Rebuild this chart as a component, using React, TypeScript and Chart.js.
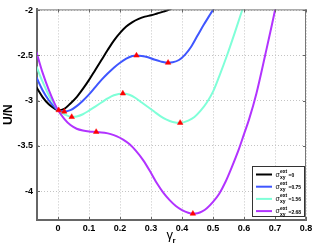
import { useEffect, useRef } from 'react';
import { Chart, registerables } from 'chart.js';

Chart.register(...registerables);

// ---- data ----
const blackX = [-0.07, -0.05, -0.03, -0.01, 0.0, 0.02, 0.04, 0.06, 0.08, 0.10, 0.12, 0.14, 0.16, 0.18, 0.20, 0.22, 0.24, 0.26, 0.28, 0.30, 0.32, 0.34, 0.36, 0.38];
const blackY = [-2.85, -2.96, -3.04, -3.09, -3.105, -3.09, -3.03, -2.96, -2.87, -2.77, -2.66, -2.55, -2.44, -2.335, -2.25, -2.18, -2.13, -2.095, -2.07, -2.055, -2.035, -2.015, -1.99, -1.95];

const blueX = [-0.07, -0.05, -0.03, -0.01, 0.0, 0.02, 0.04, 0.06, 0.08, 0.10, 0.12, 0.14, 0.16, 0.18, 0.20, 0.22, 0.24, 0.253, 0.27, 0.29, 0.31, 0.33, 0.355, 0.37, 0.39, 0.41, 0.43, 0.45, 0.47, 0.49, 0.51];
const blueY = [-2.74, -2.885, -2.995, -3.075, -3.105, -3.12, -3.105, -3.06, -3.0, -2.93, -2.85, -2.77, -2.70, -2.635, -2.58, -2.535, -2.505, -2.5, -2.505, -2.52, -2.545, -2.565, -2.58, -2.575, -2.55, -2.49, -2.4, -2.28, -2.16, -2.05, -1.94];

const cyanX = [-0.07, -0.05, -0.03, -0.01, 0.0, 0.02, 0.044, 0.06, 0.08, 0.10, 0.12, 0.14, 0.16, 0.18, 0.209, 0.23, 0.25, 0.27, 0.29, 0.31, 0.33, 0.35, 0.37, 0.394, 0.42, 0.44, 0.46, 0.48, 0.50, 0.52, 0.545, 0.57, 0.594, 0.61];
const cyanY = [-2.62, -2.79, -2.94, -3.05, -3.105, -3.15, -3.18, -3.175, -3.15, -3.11, -3.065, -3.02, -2.975, -2.94, -2.92, -2.935, -2.97, -3.02, -3.07, -3.12, -3.17, -3.21, -3.235, -3.245, -3.22, -3.18, -3.11, -3.02, -2.9, -2.73, -2.5, -2.25, -2.0, -1.83];

const purpleX = [-0.07, -0.05, -0.03, -0.01, 0.0, 0.02, 0.04, 0.06, 0.08, 0.10, 0.123, 0.15, 0.17, 0.19, 0.21, 0.23, 0.25, 0.275, 0.30, 0.32, 0.34, 0.36, 0.38, 0.40, 0.42, 0.435, 0.45, 0.465, 0.48, 0.50, 0.52, 0.54, 0.56, 0.584, 0.60, 0.616, 0.64, 0.668, 0.70, 0.72];
const purpleY = [-2.46, -2.69, -2.88, -3.04, -3.105, -3.2, -3.27, -3.31, -3.33, -3.34, -3.345, -3.355, -3.37, -3.395, -3.43, -3.48, -3.55, -3.66, -3.8, -3.92, -4.02, -4.1, -4.165, -4.21, -4.24, -4.25, -4.245, -4.225, -4.19, -4.12, -4.03, -3.9, -3.74, -3.53, -3.37, -3.21, -2.92, -2.5, -2.0, -1.65];

const markerX = [0.002, 0.02, 0.253, 0.355, 0.044, 0.209, 0.394, 0.123, 0.435];
const markerY = [-3.105, -3.12, -2.5, -2.58, -3.18, -2.92, -3.245, -3.345, -4.25];

const sigmaLabels = ['0', '0.75', '1.56', '2.68'];
const seriesColors = ['#000000', '#3f56ff', '#7fffd8', '#b233ff'];

const xTickValues = [0, 0.1, 0.2, 0.3, 0.4, 0.5, 0.6, 0.7, 0.8];
const xTickLabels = ['0', '0.1', '0.2', '0.3', '0.4', '0.5', '0.6', '0.7', '0.8'];
const yTickValues = [-4, -3.5, -3, -2.5, -2];
const yTickLabels = ['-4', '-3.5', '-3', '-2.5', '-2'];

const FONT = 'Liberation Sans, Arial, sans-serif';

const pts = (xs: number[], ys: number[]) => xs.map((x, i) => ({ x, y: ys[i] }));

const decorPlugin = {
  id: 'decor',
  afterDraw(chart: any) {
    const ctx = chart.ctx as CanvasRenderingContext2D;
    const a = chart.chartArea;
    const xs = chart.scales.x;
    const ys = chart.scales.y;
    ctx.save();
    // top / right border
    ctx.strokeStyle = '#777';
    ctx.lineWidth = 1;
    ctx.beginPath();
    ctx.moveTo(a.left, a.top + 0.5);
    ctx.lineTo(a.right, a.top + 0.5);
    ctx.moveTo(a.right - 0.5, a.top);
    ctx.lineTo(a.right - 0.5, a.bottom);
    ctx.stroke();
    // inward ticks
    ctx.strokeStyle = '#666';
    ctx.beginPath();
    for (const v of xTickValues) {
      const px = Math.round(xs.getPixelForValue(v)) + 0.5;
      ctx.moveTo(px, a.bottom);
      ctx.lineTo(px, a.bottom - 3);
      ctx.moveTo(px, a.top);
      ctx.lineTo(px, a.top + 3);
    }
    for (const v of yTickValues) {
      const py = Math.round(ys.getPixelForValue(v)) + 0.5;
      ctx.moveTo(a.left, py);
      ctx.lineTo(a.left + 3, py);
      ctx.moveTo(a.right, py);
      ctx.lineTo(a.right - 3, py);
    }
    ctx.stroke();

    // x title: gamma_r
    const cx = (a.left + a.right) / 2;
    ctx.fillStyle = '#000';
    ctx.textAlign = 'left';
    ctx.textBaseline = 'alphabetic';
    ctx.font = `13px ${FONT}`;
    ctx.fillText('γ', cx - 5, 239);
    ctx.font = `bold 8px ${FONT}`;
    ctx.fillText('r', cx + 1, 243);

    // legend
    const bx = 252.5, by = 166.5, bw = 52, bh = 50;
    ctx.fillStyle = '#fff';
    ctx.fillRect(bx, by, bw, bh);
    ctx.strokeStyle = '#333';
    ctx.lineWidth = 1;
    ctx.strokeRect(bx, by, bw, bh);
    for (let i = 0; i < sigmaLabels.length; i++) {
      const y = 174.5 + i * 12.2;
      ctx.strokeStyle = seriesColors[i];
      ctx.lineWidth = 2;
      ctx.beginPath();
      ctx.moveTo(256, y);
      ctx.lineTo(272, y);
      ctx.stroke();
      ctx.fillStyle = '#000';
      ctx.font = `7px ${FONT}`;
      ctx.fillText('σ', 275.5, y + 2);
      ctx.font = `bold 5px ${FONT}`;
      ctx.fillText('ext', 280, y - 1.5);
      ctx.fillText('xy', 280, y + 4.5);
      ctx.fillText('=' + sigmaLabels[i], 288.5, y + 2.5);
    }
    ctx.restore();
  },
};

export default function App() {
  const ref = useRef<HTMLCanvasElement>(null);
  useEffect(() => {
    if (!ref.current) return;
    Chart.defaults.font.family = FONT;
    const line = (xs: number[], ys: number[], color: string, order: number) => ({
      data: pts(xs, ys),
      borderColor: color,
      backgroundColor: color,
      showLine: true,
      pointRadius: 0,
      borderWidth: 2,
      cubicInterpolationMode: 'monotone' as const,
      order,
    });
    const chart = new Chart(ref.current, {
      type: 'scatter',
      data: {
        datasets: [
          {
            data: pts(markerX, markerY),
            pointStyle: 'triangle',
            pointRadius: 3.2,
            backgroundColor: '#ff0000',
            borderColor: '#ff0000',
            borderWidth: 0.5,
            showLine: false,
            order: 0,
          } as any,
          line(purpleX, purpleY, seriesColors[3], 1),
          line(cyanX, cyanY, seriesColors[2], 2),
          line(blueX, blueY, seriesColors[1], 3),
          line(blackX, blackY, seriesColors[0], 4),
        ],
      },
      options: {
        animation: false,
        responsive: false,
        events: [],
        layout: { padding: { top: 6, right: 10, left: 0, bottom: 0 } },
        plugins: { legend: { display: false }, tooltip: { enabled: false } },
        scales: {
          x: {
            type: 'linear',
            min: -0.068,
            max: 0.8,
            afterBuildTicks: (s: any) => {
              s.ticks = xTickValues.map((v) => ({ value: v }));
            },
            afterFit: (s: any) => {
              s.height = 28;
            },
            ticks: {
              callback: (_v: any, i: number) => xTickLabels[i],
              font: { size: 9, weight: 'bold' },
              color: '#000',
              padding: 3,
              maxRotation: 0,
              autoSkip: false,
            },
            grid: { color: '#c4c4c4', drawTicks: false, lineWidth: 1 },
            border: { display: true, color: '#666', width: 2, dash: [1, 2] },
          },
          y: {
            type: 'linear',
            min: -4.32,
            max: -1.99,
            afterBuildTicks: (s: any) => {
              s.ticks = yTickValues.map((v) => ({ value: v }));
            },
            afterFit: (s: any) => {
              s.width = 37;
            },
            ticks: {
              callback: (_v: any, i: number) => yTickLabels[i],
              font: { size: 9, weight: 'bold' },
              color: '#000',
              padding: 4,
              autoSkip: false,
            },
            grid: { color: '#c4c4c4', drawTicks: false, lineWidth: 1 },
            border: { display: true, color: '#666', width: 2, dash: [1, 2] },
            title: {
              display: true,
              text: 'U/N',
              color: '#000',
              font: { size: 12, weight: 'bold' },
              padding: { top: 1, bottom: 0 },
            },
          },
        },
      },
      plugins: [decorPlugin],
    } as any);
    return () => chart.destroy();
  }, []);
  return (
    <div style={{ position: 'fixed', left: 0, top: 0, width: 316, height: 248, background: '#fff' }}>
      <canvas ref={ref} width={316} height={248} style={{ display: 'block' }} />
    </div>
  );
}
